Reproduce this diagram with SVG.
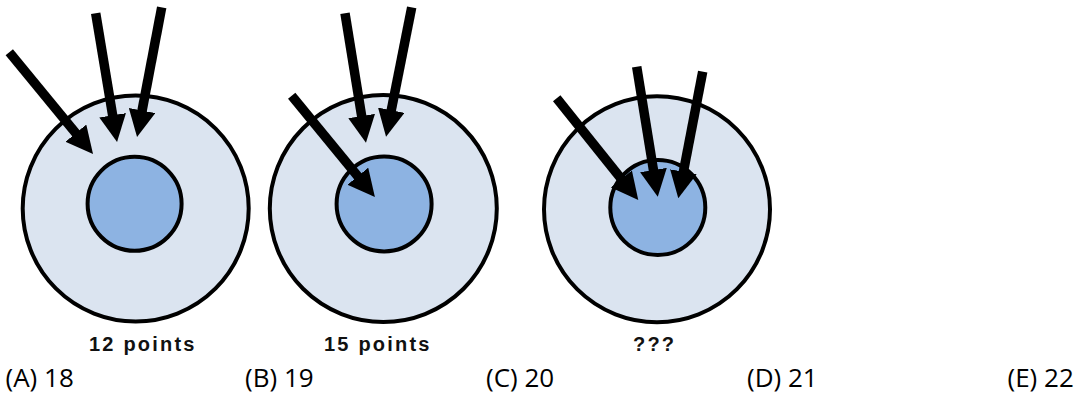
<svg xmlns="http://www.w3.org/2000/svg" width="1085" height="396" viewBox="0 0 1085 396">
  <style>
    .outer { fill: #DBE4F0; stroke: #000; stroke-width: 4; }
    .inner { fill: #8DB3E2; stroke: #000; stroke-width: 4; }
    .arrow { stroke: #000; stroke-width: 9.5; fill: none; stroke-linecap: butt; marker-end: url(#head); }
    .lbl { font-family: "Liberation Sans", Arial, sans-serif; font-weight: bold; font-size: 20px; letter-spacing: 2.2px; fill: #111; }
    .ans { font-family: "Open Sans", "Liberation Sans", sans-serif; font-size: 26px; fill: #000; }
  </style>
  <defs>
    <marker id="head" markerUnits="userSpaceOnUse" viewBox="0 0 27 27" markerWidth="27" markerHeight="27" refX="1" refY="13.5" orient="auto">
      <path d="M0,0 L27,13.5 L0,27 z" fill="#000"/>
    </marker>
  </defs>
  <rect width="1085" height="396" fill="#fff"/>

  <g id="target-12">
    <circle class="outer" cx="135.7" cy="208.5" r="113"/>
    <circle class="inner" cx="134.6" cy="203.8" r="47"/>
    <text class="lbl" x="89" y="350.5">12 points</text>
  </g>

  <g id="target-15">
    <circle class="outer" cx="383.3" cy="208.5" r="113.5"/>
    <circle class="inner" cx="384.1" cy="203.9" r="47.5"/>
    <text class="lbl" x="324" y="350.5">15 points</text>
  </g>

  <g id="target-unknown">
    <circle class="outer" cx="657" cy="209.3" r="113"/>
    <circle class="inner" cx="657.8" cy="207.6" r="47.5"/>
    <text class="lbl" x="633" y="350.5">???</text>
  </g>

  <g id="connectors">
    <line class="arrow" x1="9.3" y1="52.3" x2="76.5" y2="133.9"/>
    <line class="arrow" x1="95.7" y1="13.3" x2="112.8" y2="116.3"/>
    <line class="arrow" x1="161.7" y1="7.3" x2="141.9" y2="111.5"/>

    <line class="arrow" x1="291.7" y1="95.8" x2="358.4" y2="177"/>
    <line class="arrow" x1="345" y1="13.3" x2="361.8" y2="117"/>
    <line class="arrow" x1="411.7" y1="7.3" x2="391.1" y2="111.2"/>

    <line class="arrow" x1="556.7" y1="98.3" x2="622" y2="179.7"/>
    <line class="arrow" x1="636.7" y1="66.7" x2="653.6" y2="171"/>
    <line class="arrow" x1="702.7" y1="71.7" x2="683.2" y2="172.8"/>
  </g>

  <g id="answers">
    <text class="ans" x="5.5" y="387">(A) 18</text>
    <text class="ans" x="245" y="387">(B) 19</text>
    <text class="ans" x="486" y="387">(C) 20</text>
    <text class="ans" x="747" y="387">(D) 21</text>
    <text class="ans" x="1007.5" y="387">(E) 22</text>
  </g>
</svg>
